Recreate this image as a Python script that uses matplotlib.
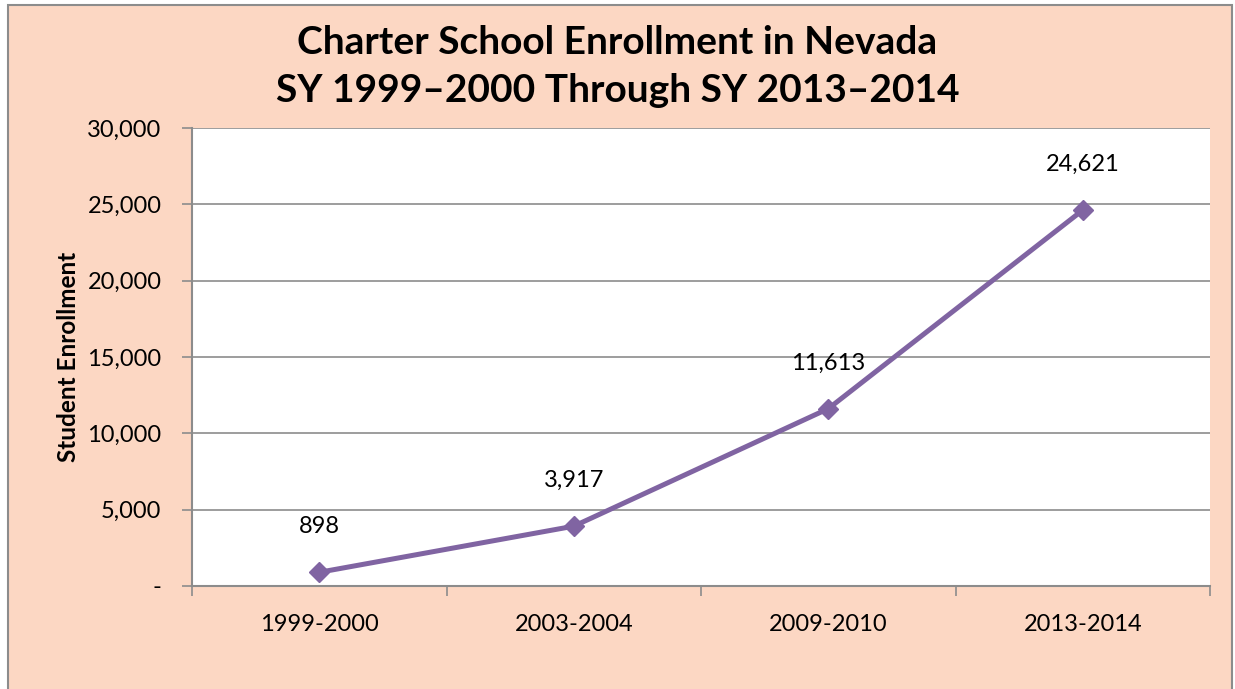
import numpy as np
import matplotlib.pyplot as plt
from matplotlib.patches import Rectangle
from matplotlib.ticker import FuncFormatter

# school years and enrollment counts
years = ['1999-2000', '2003-2004', '2009-2010', '2013-2014']
enrollment = [898, 3917, 11613, 24621]
y_ticks = [0, 5000, 10000, 15000, 20000, 25000, 30000]

plt.rcParams['font.family'] = ['Lato', 'DejaVu Sans']

W, H = 1235, 689
fig = plt.figure(figsize=(W / 100, H / 100), dpi=100)
fig.patch.set_facecolor('white')

# peach chart area with gray border
bg = Rectangle((8 / W, 1 - 695 / H), (1232 - 8) / W, (695 - 5) / H,
               transform=fig.transFigure, facecolor='#FCD7C3',
               edgecolor='#8C8C8C', linewidth=1.5, zorder=-10)
fig.patches.append(bg)

left, right, top, bottom = 192, 1210, 128, 586
ax = fig.add_axes([left / W, 1 - bottom / H, (right - left) / W, (bottom - top) / H])
ax.set_facecolor('white')

x = np.arange(len(years))
ax.plot(x, enrollment, color='#8064A2', linewidth=3.6, marker='D',
        markersize=10, zorder=3, clip_on=False)

for xi, v in zip(x, enrollment):
    ax.annotate(f'{v:,}', (xi, v), xytext=(0, 33), textcoords='offset points',
                ha='center', va='center', fontsize=17)

ax.set_xlim(-0.5, len(years) - 0.5)
ax.set_ylim(0, 30000)
ax.set_yticks(y_ticks)
ax.yaxis.set_major_formatter(FuncFormatter(lambda v, p: '-' if v == 0 else f'{int(v):,}'))
ax.set_xticks(x)
ax.set_xticklabels(years)
ax.set_xticks(np.arange(-0.5, len(years)), minor=True)

ax.grid(axis='y', color='#8C8C8C', linewidth=1.2)
ax.set_axisbelow(True)
for s in ['top', 'right']:
    ax.spines[s].set_visible(False)
for s in ['left', 'bottom']:
    ax.spines[s].set_color('#8C8C8C')
    ax.spines[s].set_linewidth(1.5)

ax.tick_params(axis='y', labelsize=17, length=7, color='#8C8C8C', width=1.2, pad=15)
ax.tick_params(axis='x', which='major', labelsize=17, length=0, pad=20)
ax.tick_params(axis='x', which='minor', length=7, color='#8C8C8C', width=1.2)

ax.set_ylabel('Student Enrollment', fontsize=17.5, fontweight='bold', labelpad=5)

fig.text(0.5, 1 - 42 / H, 'Charter School Enrollment in Nevada', ha='center', va='center',
         fontsize=28, fontweight='bold')
fig.text(0.5, 1 - 90 / H, 'SY 1999\u20132000 Through SY 2013\u20132014', ha='center', va='center',
         fontsize=28, fontweight='bold')

fig.savefig('out.png', dpi=100, facecolor=fig.get_facecolor())
